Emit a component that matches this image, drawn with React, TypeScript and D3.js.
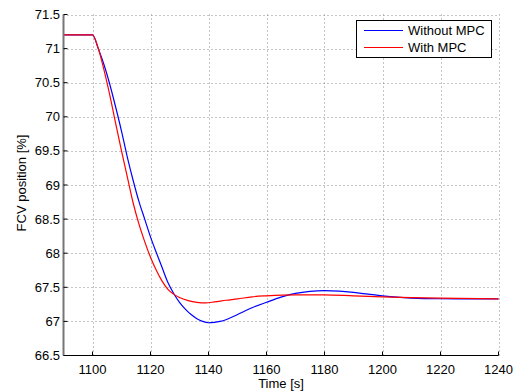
import { useEffect, useRef } from "react";
import * as d3 from "d3";

// sampled step response, time [s] vs FCV position [%]
const timeWithout = [1090, 1100, 1102, 1104, 1106, 1108, 1110, 1112, 1114, 1116, 1118, 1120, 1122, 1124, 1126, 1128, 1130, 1132, 1134, 1136, 1138, 1140, 1142, 1144, 1146, 1148, 1150, 1155, 1160, 1165, 1170, 1175, 1180, 1185, 1190, 1195, 1200, 1205, 1210, 1220, 1230, 1240];
const withoutMpc = [71.2, 71.2, 71.0, 70.76, 70.47, 70.14, 69.79, 69.41, 69.07, 68.76, 68.5, 68.24, 68.01, 67.79, 67.57, 67.41, 67.28, 67.18, 67.1, 67.04, 67.0, 66.98, 66.985, 67.0, 67.025, 67.06, 67.1, 67.2, 67.28, 67.355, 67.41, 67.44, 67.45, 67.443, 67.425, 67.4, 67.375, 67.355, 67.342, 67.332, 67.33, 67.33];

const timeWith = [1090, 1100, 1102, 1104, 1106, 1108, 1110, 1112, 1114, 1116, 1118, 1120, 1122, 1124, 1126, 1128, 1130, 1133, 1136, 1139, 1142, 1146, 1150, 1155, 1160, 1170, 1180, 1190, 1200, 1210, 1220, 1240];
const withMpc = [71.2, 71.2, 71.0, 70.68, 70.31, 69.9, 69.5, 69.12, 68.74, 68.43, 68.17, 67.94, 67.75, 67.59, 67.47, 67.4, 67.35, 67.305, 67.28, 67.272, 67.285, 67.31, 67.33, 67.36, 67.375, 67.39, 67.39, 67.375, 67.36, 67.35, 67.34, 67.33];

const xTicks = [1100, 1120, 1140, 1160, 1180, 1200, 1220, 1240];
const yTicks = [66.5, 67, 67.5, 68, 68.5, 69, 69.5, 70, 70.5, 71, 71.5];
const seriesNames = ["Without MPC", "With MPC"];
const seriesColors = ["#0000ff", "#ff0000"];

const W = 521;
const H = 392;
const FONT = "Liberation Sans, Arial, Helvetica, sans-serif";

export default function App(): JSX.Element {
  const ref = useRef<SVGSVGElement | null>(null);

  useEffect(() => {
    if (!ref.current) return;
    const svg = d3.select(ref.current);
    svg.selectAll("*").remove();

    const x = d3.scaleLinear().domain([1090, 1240]).range([63.5, 498.5]);
    const y = d3.scaleLinear().domain([66.5, 71.5]).range([355.5, 14.5]);

    svg.append("rect").attr("width", W).attr("height", H).attr("fill", "#fff");

    // dotted grid
    const grid = svg.append("g").attr("stroke", "#8a8a8a").attr("stroke-dasharray", "1,3").attr("stroke-width", 1);
    grid
      .selectAll("line.gx")
      .data(xTicks)
      .join("line")
      .attr("class", "gx")
      .attr("x1", (d) => Math.round(x(d)) + 0.5)
      .attr("x2", (d) => Math.round(x(d)) + 0.5)
      .attr("y1", y(66.5))
      .attr("y2", y(71.5));
    grid
      .selectAll("line.gy")
      .data(yTicks.filter((d) => d > 66.5))
      .join("line")
      .attr("class", "gy")
      .attr("x1", x(1090))
      .attr("x2", x(1240))
      .attr("y1", (d) => Math.round(y(d)) + 0.5)
      .attr("y2", (d) => Math.round(y(d)) + 0.5);

    // series
    const times = [timeWithout, timeWith];
    const vals = [withoutMpc, withMpc];
    const line = d3
      .line<[number, number]>()
      .x((d) => x(d[0]))
      .y((d) => y(d[1]))
      .curve(d3.curveMonotoneX);
    vals.forEach((v, i) => {
      const pts = v.map((val, j) => [times[i][j], val] as [number, number]);
      svg
        .append("path")
        .attr("d", line(pts))
        .attr("fill", "none")
        .attr("stroke", seriesColors[i])
        .attr("stroke-width", 1.2);
    });

    // axes
    const ax = svg.append("g").attr("font-family", FONT).attr("font-size", 13).attr("fill", "#000");
    ax.append("line")
      .attr("x1", x(1090))
      .attr("x2", x(1240))
      .attr("y1", y(66.5))
      .attr("y2", y(66.5))
      .attr("stroke", "#000")
      .attr("stroke-width", 1.2);
    ax.append("line")
      .attr("x1", x(1090))
      .attr("x2", x(1090))
      .attr("y1", y(66.5))
      .attr("y2", y(71.5))
      .attr("stroke", "#777")
      .attr("stroke-width", 2);
    ax.selectAll("line.tx")
      .data(xTicks)
      .join("line")
      .attr("class", "tx")
      .attr("x1", (d) => x(d))
      .attr("x2", (d) => x(d))
      .attr("y1", y(66.5))
      .attr("y2", y(66.5) - 4)
      .attr("stroke", "#000");
    ax.selectAll("line.ty")
      .data(yTicks)
      .join("line")
      .attr("class", "ty")
      .attr("x1", x(1090))
      .attr("x2", x(1090) + 4)
      .attr("y1", (d) => y(d))
      .attr("y2", (d) => y(d))
      .attr("stroke", "#000");
    ax.selectAll("text.lx")
      .data(xTicks)
      .join("text")
      .attr("class", "lx")
      .attr("x", (d) => x(d))
      .attr("y", 374)
      .attr("text-anchor", "middle")
      .text((d) => d);
    ax.selectAll("text.ly")
      .data(yTicks)
      .join("text")
      .attr("class", "ly")
      .attr("x", 60)
      .attr("y", (d) => y(d))
      .attr("dy", "0.35em")
      .attr("text-anchor", "end")
      .text((d) => d);
    ax.append("text")
      .attr("x", 281)
      .attr("y", 388)
      .attr("text-anchor", "middle")
      .text("Time [s]");
    ax.append("text")
      .attr("transform", "translate(26,183) rotate(-90)")
      .attr("text-anchor", "middle")
      .text("FCV position [%]");

    // legend
    const lg = svg.append("g").attr("font-family", FONT).attr("font-size", 13);
    lg.append("rect")
      .attr("x", 356.5)
      .attr("y", 20.5)
      .attr("width", 135)
      .attr("height", 37)
      .attr("fill", "#fff")
      .attr("stroke", "#000");
    seriesNames.forEach((name, i) => {
      const yy = 30.5 + i * 17;
      lg.append("line")
        .attr("x1", 364)
        .attr("x2", 403)
        .attr("y1", yy)
        .attr("y2", yy)
        .attr("stroke", seriesColors[i])
        .attr("stroke-width", 1.2);
      lg.append("text").attr("x", 408).attr("y", yy).attr("dy", "0.35em").text(name);
    });
  }, []);

  return <svg ref={ref} width={W} height={H} style={{ position: "absolute", left: 0, top: 0 }} />;
}
